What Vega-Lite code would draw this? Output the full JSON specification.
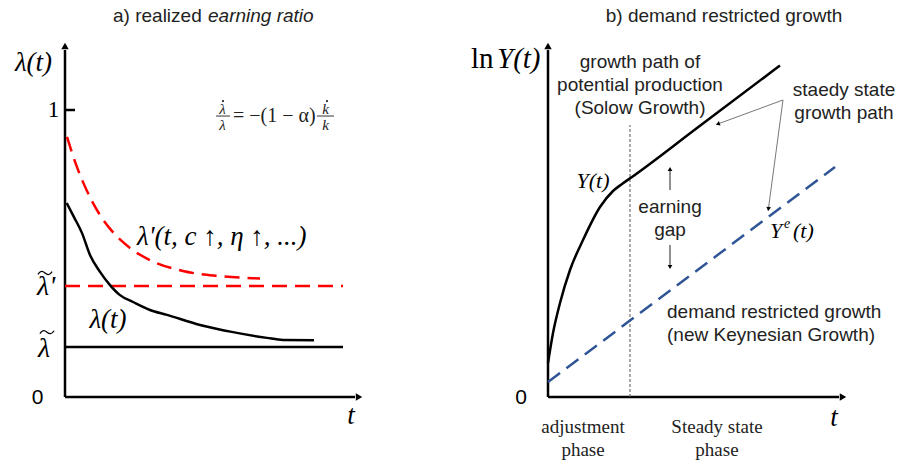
{
  "$schema": "https://vega.github.io/schema/vega-lite/v6.json",
  "background": "white",
  "padding": 0,
  "spacing": 0,
  "bounds": "flush",
  "config": {"view": {"stroke": null}},
  "hconcat": [
    {
      "width": 450,
      "height": 466,
      "encoding": {
        "x": {"field": "t", "type": "quantitative", "axis": null, "scale": {"domain": [-2.16667, 12.83333], "nice": false, "zero": false}},
        "y": {"field": "v", "type": "quantitative", "axis": null, "scale": {"domain": [-0.240418, 1.383275], "nice": false, "zero": false}}
      },
      "layer": [
        {
          "data": {"values": [
            {"seg": "y-axis", "t": 0, "v": 0, "t2": 0, "v2": 1.209},
            {"seg": "x-axis", "t": 0, "v": 0, "t2": 9.667, "v2": 0},
            {"seg": "tick 1", "t": 0, "v": 1, "t2": 0.333, "v2": 1},
            {"seg": "lambda tilde", "t": 0, "v": 0.174, "t2": 9.267, "v2": 0.174}
          ]},
          "mark": {"type": "rule", "color": "black", "strokeWidth": 2.5},
          "encoding": {"x2": {"field": "t2"}, "y2": {"field": "v2"}}
        },
        {
          "data": {"values": [
            {"seg": "lambda tilde prime", "t": 0, "v": 0.387, "t2": 9.267, "v2": 0.387}
          ]},
          "mark": {"type": "rule", "color": "#FF0000", "strokeWidth": 2.5, "strokeDash": [15, 8]},
          "encoding": {"x2": {"field": "t2"}, "y2": {"field": "v2"}}
        },
        {
          "data": {"values": [{"t": 0, "v": 1.223}]},
          "mark": {"type": "point", "shape": "triangle-up", "filled": true, "size": 55, "color": "black", "opacity": 1, "strokeWidth": 0}
        },
        {
          "data": {"values": [{"t": 9.8, "v": 0}]},
          "mark": {"type": "point", "shape": "triangle-right", "filled": true, "size": 55, "color": "black", "opacity": 1, "strokeWidth": 0}
        },
        {
          "data": {"values": [
            {"t": 0.067, "v": 0.906}, {"t": 0.4, "v": 0.801}, {"t": 0.733, "v": 0.718},
            {"t": 1.167, "v": 0.634}, {"t": 1.567, "v": 0.578}, {"t": 2.167, "v": 0.519},
            {"t": 2.833, "v": 0.477}, {"t": 3.933, "v": 0.439}, {"t": 5.067, "v": 0.422},
            {"t": 6.267, "v": 0.414}, {"t": 6.5, "v": 0.413}
          ]},
          "mark": {"type": "line", "color": "#FF0000", "strokeWidth": 2.5, "strokeDash": [15, 8], "interpolate": "monotone"}
        },
        {
          "data": {"values": [
            {"t": 0.057, "v": 0.676}, {"t": 0.3, "v": 0.627}, {"t": 0.567, "v": 0.571},
            {"t": 0.833, "v": 0.495}, {"t": 1.167, "v": 0.436}, {"t": 1.5, "v": 0.39},
            {"t": 1.833, "v": 0.355}, {"t": 2.267, "v": 0.331}, {"t": 2.833, "v": 0.303},
            {"t": 3.4, "v": 0.286}, {"t": 4.5, "v": 0.251}, {"t": 5.6, "v": 0.226},
            {"t": 6.733, "v": 0.206}, {"t": 7.267, "v": 0.199}, {"t": 8.3, "v": 0.198}
          ]},
          "mark": {"type": "line", "color": "black", "strokeWidth": 2.5, "interpolate": "monotone"}
        },
        {
          "data": {"values": [
            {"t": 5.033, "v": 0.979, "t2": 5.5},
            {"t": 8.4, "v": 0.979, "t2": 8.967}
          ]},
          "mark": {"type": "rule", "color": "#333333", "strokeWidth": 1},
          "encoding": {"x2": {"field": "t2"}}
        },
        {
          "data": {"values": [
            {"accent": "dot over lambda", "t": 5.267, "v": 1.031},
            {"accent": "dot over k", "t": 8.733, "v": 1.031}
          ]},
          "mark": {"type": "point", "shape": "circle", "filled": true, "size": 5, "color": "#222222", "opacity": 1, "strokeWidth": 0}
        },
        {
          "data": {"values": [
            {"accent": "tilde over lambda prime", "t": -0.667, "v": 0.432},
            {"accent": "tilde over lambda", "t": -0.6, "v": 0.226}
          ]},
          "mark": {"type": "point", "shape": "M-1,0.2 C-0.65,-0.35 -0.35,-0.3 0,0 C0.35,0.3 0.65,0.35 1,-0.2", "filled": false, "size": 200, "color": "black", "opacity": 1, "strokeWidth": 1.3}
        },
        {
          "data": {"values": [
            {"t": 1.6, "v": 1.3275, "label": "a) realized"}
          ]},
          "mark": {"type": "text", "font": "Liberation Sans", "fontSize": 19, "align": "left", "baseline": "middle", "color": "#222222"},
          "encoding": {"text": {"field": "label"}}
        },
        {
          "data": {"values": [
            {"t": 4.767, "v": 1.3275, "label": "earning ratio"}
          ]},
          "mark": {"type": "text", "font": "Liberation Sans", "fontSize": 19, "fontStyle": "italic", "align": "left", "baseline": "middle", "color": "#222222"},
          "encoding": {"text": {"field": "label"}}
        },
        {
          "data": {"values": [
            {"t": -0.917, "v": -0.0035, "label": "0"}
          ]},
          "mark": {"type": "text", "font": "Liberation Sans", "fontSize": 21, "align": "center", "baseline": "middle", "color": "black"},
          "encoding": {"text": {"field": "label"}}
        },
        {
          "data": {"values": [
            {"t": -0.383, "v": 1.0, "label": "1"}
          ]},
          "mark": {"type": "text", "font": "Liberation Serif", "fontSize": 23, "align": "center", "baseline": "middle", "color": "black"},
          "encoding": {"text": {"field": "label"}}
        },
        {
          "data": {"values": [
            {"t": -1.05, "v": 1.164, "label": "λ(t)"},
            {"t": 1.433, "v": 0.268, "label": "λ(t)"},
            {"t": 9.533, "v": -0.066, "label": "t"}
          ]},
          "mark": {"type": "text", "font": "Liberation Serif", "fontSize": 27, "fontStyle": "italic", "align": "center", "baseline": "middle", "color": "black"},
          "encoding": {"text": {"field": "label"}}
        },
        {
          "data": {"values": [
            {"t": -0.933, "v": 0.383, "label": "λ'"},
            {"t": -0.9, "v": 0.167, "label": "λ"}
          ]},
          "mark": {"type": "text", "font": "Liberation Serif", "fontSize": 28, "fontStyle": "italic", "align": "left", "baseline": "middle", "color": "black"},
          "encoding": {"text": {"field": "label"}}
        },
        {
          "data": {"values": [
            {"t": 2.4, "v": 0.557, "label": "λ'(t, c ↑, η ↑, ...)"}
          ]},
          "mark": {"type": "text", "font": "Liberation Serif", "fontSize": 27, "fontStyle": "italic", "align": "left", "baseline": "middle", "color": "black"},
          "encoding": {"text": {"field": "label"}}
        },
        {
          "data": {"values": [
            {"t": 5.25, "v": 1.003, "label": "λ"},
            {"t": 5.25, "v": 0.9477, "label": "λ"},
            {"t": 8.683, "v": 1.003, "label": "k"},
            {"t": 8.683, "v": 0.9477, "label": "k"}
          ]},
          "mark": {"type": "text", "font": "Liberation Serif", "fontSize": 15, "fontStyle": "italic", "align": "center", "baseline": "middle", "color": "#222222"},
          "encoding": {"text": {"field": "label"}}
        },
        {
          "data": {"values": [
            {"t": 5.6, "v": 0.979, "label": "= −(1 − α)"}
          ]},
          "mark": {"type": "text", "font": "Liberation Serif", "fontSize": 20, "align": "left", "baseline": "middle", "color": "#222222"},
          "encoding": {"text": {"field": "label"}}
        }
      ]
    },
    {
      "width": 451,
      "height": 466,
      "encoding": {
        "x": {"field": "t", "type": "quantitative", "axis": null, "scale": {"domain": [-3.26667, 11.76667], "nice": false, "zero": false}},
        "y": {"field": "v", "type": "quantitative", "axis": null, "scale": {"domain": [-2.3, 13.23333], "nice": false, "zero": false}}
      },
      "layer": [
        {
          "data": {"values": [
            {"seg": "y-axis", "t": 0, "v": 0, "t2": 0, "v2": 11.567},
            {"seg": "x-axis", "t": 0, "v": 0, "t2": 9.7, "v2": 0}
          ]},
          "mark": {"type": "rule", "color": "black", "strokeWidth": 2.5},
          "encoding": {"x2": {"field": "t2"}, "y2": {"field": "v2"}}
        },
        {
          "data": {"values": [{"t": 0, "v": 11.7}]},
          "mark": {"type": "point", "shape": "triangle-up", "filled": true, "size": 55, "color": "black", "opacity": 1, "strokeWidth": 0}
        },
        {
          "data": {"values": [{"t": 9.833, "v": 0}]},
          "mark": {"type": "point", "shape": "triangle-right", "filled": true, "size": 55, "color": "black", "opacity": 1, "strokeWidth": 0}
        },
        {
          "data": {"values": [
            {"seg": "phase divider", "t": 2.733, "v": 0, "t2": 2.733, "v2": 9.067}
          ]},
          "mark": {"type": "rule", "color": "#555555", "strokeWidth": 1, "strokeDash": [3, 2]},
          "encoding": {"x2": {"field": "t2"}, "y2": {"field": "v2"}}
        },
        {
          "data": {"values": [
            {"t": 0, "v": 0.5}, {"t": 9.567, "v": 7.667}
          ]},
          "mark": {"type": "line", "color": "#2F5597", "strokeWidth": 2.5, "strokeDash": [15, 8]}
        },
        {
          "data": {"values": [
            {"t": 0, "v": 1.133}, {"t": 0.167, "v": 2.133}, {"t": 0.4, "v": 3.133},
            {"t": 0.733, "v": 4.233}, {"t": 1.167, "v": 5.233}, {"t": 1.733, "v": 6.333},
            {"t": 2.167, "v": 6.867}, {"t": 2.467, "v": 7.1}, {"t": 2.8, "v": 7.333},
            {"t": 5.0, "v": 8.99}, {"t": 7.733, "v": 11.05}
          ]},
          "mark": {"type": "line", "color": "black", "strokeWidth": 2.5, "interpolate": "monotone"}
        },
        {
          "data": {"values": [
            {"seg": "to Y", "t": 7.833, "v": 9.9, "t2": 5.62, "v2": 9.085},
            {"seg": "to Ye", "t": 7.833, "v": 9.9, "t2": 7.34, "v2": 6.22}
          ]},
          "mark": {"type": "rule", "color": "#777777", "strokeWidth": 1},
          "encoding": {"x2": {"field": "t2"}, "y2": {"field": "v2"}}
        },
        {
          "data": {"values": [{"t": 5.66, "v": 9.1}]},
          "mark": {"type": "point", "shape": "triangle-up", "angle": 250, "filled": true, "size": 22, "color": "black", "opacity": 1, "strokeWidth": 0}
        },
        {
          "data": {"values": [{"t": 7.347, "v": 6.267}]},
          "mark": {"type": "point", "shape": "triangle-up", "angle": 188, "filled": true, "size": 22, "color": "black", "opacity": 1, "strokeWidth": 0}
        },
        {
          "data": {"values": [
            {"seg": "gap up", "t": 4.067, "v": 6.9, "t2": 4.067, "v2": 7.55},
            {"seg": "gap down", "t": 4.067, "v": 5.067, "t2": 4.067, "v2": 4.4}
          ]},
          "mark": {"type": "rule", "color": "#222222", "strokeWidth": 1},
          "encoding": {"x2": {"field": "t2"}, "y2": {"field": "v2"}}
        },
        {
          "data": {"values": [{"t": 4.067, "v": 7.6}]},
          "mark": {"type": "point", "shape": "triangle-up", "filled": true, "size": 22, "color": "black", "opacity": 1, "strokeWidth": 0}
        },
        {
          "data": {"values": [{"t": 4.067, "v": 4.333}]},
          "mark": {"type": "point", "shape": "triangle-down", "filled": true, "size": 22, "color": "black", "opacity": 1, "strokeWidth": 0}
        },
        {
          "data": {"values": [
            {"t": 5.867, "v": 12.7, "label": "b) demand restricted growth"},
            {"t": 3.067, "v": 11.167, "label": "growth path of"},
            {"t": 3.067, "v": 10.4, "label": "potential production"},
            {"t": 3.067, "v": 9.633, "label": "(Solow Growth)"},
            {"t": 9.867, "v": 10.233, "label": "staedy state"},
            {"t": 9.867, "v": 9.467, "label": "growth path"},
            {"t": 4.067, "v": 6.333, "label": "earning"},
            {"t": 4.067, "v": 5.567, "label": "gap"}
          ]},
          "mark": {"type": "text", "font": "Liberation Sans", "fontSize": 19, "align": "center", "baseline": "middle", "color": "#222222"},
          "encoding": {"text": {"field": "label"}}
        },
        {
          "data": {"values": [
            {"t": 3.967, "v": 2.833, "label": "demand restricted growth"},
            {"t": 3.967, "v": 2.067, "label": "(new Keynesian Growth)"}
          ]},
          "mark": {"type": "text", "font": "Liberation Sans", "fontSize": 19, "align": "left", "baseline": "middle", "color": "#222222"},
          "encoding": {"text": {"field": "label"}}
        },
        {
          "data": {"values": [
            {"t": -0.9, "v": -0.033, "label": "0"}
          ]},
          "mark": {"type": "text", "font": "Liberation Sans", "fontSize": 21, "align": "center", "baseline": "middle", "color": "black"},
          "encoding": {"text": {"field": "label"}}
        },
        {
          "data": {"values": [
            {"t": 1.167, "v": -1.0, "label": "adjustment"},
            {"t": 1.167, "v": -1.767, "label": "phase"},
            {"t": 5.633, "v": -1.0, "label": "Steady state"},
            {"t": 5.633, "v": -1.767, "label": "phase"}
          ]},
          "mark": {"type": "text", "font": "Liberation Serif", "fontSize": 19, "align": "center", "baseline": "middle", "color": "#222222"},
          "encoding": {"text": {"field": "label"}}
        },
        {
          "data": {"values": [
            {"t": -2.567, "v": 11.267, "label": "ln"}
          ]},
          "mark": {"type": "text", "font": "Liberation Serif", "fontSize": 29, "align": "left", "baseline": "middle", "color": "black"},
          "encoding": {"text": {"field": "label"}}
        },
        {
          "data": {"values": [
            {"t": -1.7, "v": 11.267, "label": "Y(t)"}
          ]},
          "mark": {"type": "text", "font": "Liberation Serif", "fontSize": 29, "fontStyle": "italic", "align": "left", "baseline": "middle", "color": "black"},
          "encoding": {"text": {"field": "label"}}
        },
        {
          "data": {"values": [
            {"t": 1.5, "v": 7.2, "label": "Y(t)"}
          ]},
          "mark": {"type": "text", "font": "Liberation Serif", "fontSize": 22, "fontStyle": "italic", "align": "center", "baseline": "middle", "color": "black"},
          "encoding": {"text": {"field": "label"}}
        },
        {
          "data": {"values": [
            {"t": 7.4, "v": 5.533, "label": "Y"},
            {"t": 8.167, "v": 5.533, "label": "(t)"}
          ]},
          "mark": {"type": "text", "font": "Liberation Serif", "fontSize": 22, "fontStyle": "italic", "align": "left", "baseline": "middle", "color": "black"},
          "encoding": {"text": {"field": "label"}}
        },
        {
          "data": {"values": [
            {"t": 7.867, "v": 5.767, "label": "e"}
          ]},
          "mark": {"type": "text", "font": "Liberation Serif", "fontSize": 14, "fontStyle": "italic", "align": "left", "baseline": "middle", "color": "black"},
          "encoding": {"text": {"field": "label"}}
        },
        {
          "data": {"values": [
            {"t": 9.533, "v": -0.7, "label": "t"}
          ]},
          "mark": {"type": "text", "font": "Liberation Serif", "fontSize": 27, "fontStyle": "italic", "align": "center", "baseline": "middle", "color": "black"},
          "encoding": {"text": {"field": "label"}}
        }
      ]
    }
  ]
}
